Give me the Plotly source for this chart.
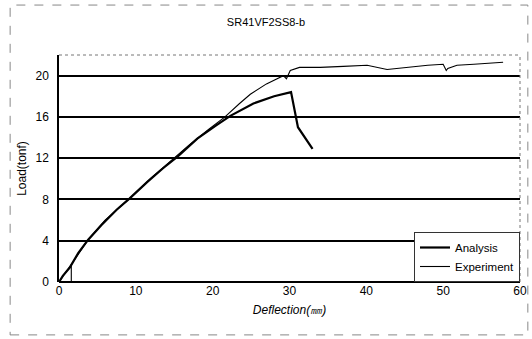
import plotly.graph_objects as go

# Data
analysis_x = [0, 0.5, 1.4, 2.5, 3.8, 5.5, 7.5, 9.2, 11.5, 13.5, 15.5, 18.0, 20.5, 22.3, 25.3, 28.0, 30.2, 31.1, 33.0]
analysis_y = [0, 0.6, 1.4, 2.8, 4.1, 5.5, 7.0, 8.1, 9.7, 11.0, 12.2, 13.9, 15.2, 16.1, 17.3, 18.0, 18.4, 15.0, 12.9]

experiment_x = [0, 1.6, 1.6, 0, 1.6, 3.8, 6.0, 9.2, 12.0, 14.5, 17.0, 19.5, 21.6, 23.5, 24.9, 27.0, 29.2, 29.6, 30.1,
                31.3, 34.0, 37.0, 40.1, 42.7, 45.0, 48.0, 50.0, 50.4, 50.6, 51.8, 54.0, 56.0, 57.8]
experiment_y = [0, 1.7, 0, 0, 1.7, 4.1, 6.0, 8.1, 10.1, 11.7, 13.3, 14.8, 16.0, 17.3, 18.2, 19.2, 20.0, 19.7, 20.5,
                20.8, 20.8, 20.9, 21.0, 20.6, 20.8, 21.0, 21.1, 20.5, 20.7, 21.0, 21.1, 21.2, 21.3]

x_ticks = [0, 10, 20, 30, 40, 50, 60]
y_ticks = [0, 4, 8, 12, 16, 20]

title_text = "SR41VF2SS8-b"
x_title = "Deflection(㎜)"
y_title = "Load(tonf)"

font_family = "Liberation Sans, Arial, sans-serif"

fig = go.Figure()
fig.add_trace(go.Scatter(x=analysis_x, y=analysis_y, mode="lines", name="Analysis",
                         line=dict(color="black", width=2.2)))
fig.add_trace(go.Scatter(x=experiment_x, y=experiment_y, mode="lines", name="Experiment",
                         line=dict(color="black", width=1.1)))

fig.update_layout(
    width=532, height=339,
    margin=dict(l=59, r=12, t=55, b=57, autoexpand=False),
    paper_bgcolor="white", plot_bgcolor="white",
    font=dict(family=font_family, color="black", size=12),
    title=dict(text=title_text, x=0.5, xanchor="center", y=1 - 22 / 339, yanchor="middle",
               font=dict(size=11, family=font_family)),
    showlegend=True,
    legend=dict(x=1.0, y=0.0, xanchor="right", yanchor="bottom", bgcolor="white",
                bordercolor="#333", borderwidth=1, font=dict(size=11.5),
                tracegroupgap=0, itemwidth=30),
    xaxis=dict(range=[0, 60], tickvals=x_ticks, showgrid=False, zeroline=False, automargin=False,
               showline=False, ticks="", tickfont=dict(size=12),
               title=dict(text=x_title, font=dict(size=12, style="italic"), standoff=8)),
    yaxis=dict(range=[0, 22], tickvals=y_ticks, showgrid=True, gridcolor="black", gridwidth=1.6,
               zeroline=True, zerolinecolor="black", zerolinewidth=1.6, automargin=False,
               showline=True, linecolor="black", linewidth=1.5, ticks="",
               tickfont=dict(size=12), ticklabelstandoff=6,
               title=dict(text=y_title, font=dict(size=12), standoff=6)),
)

# dotted plot-area border (top and right)
fig.add_shape(type="line", xref="paper", yref="paper", x0=0, x1=1, y0=1, y1=1,
              line=dict(color="#777", width=1, dash="dot"))
fig.add_shape(type="line", xref="paper", yref="paper", x0=1, x1=1, y0=0, y1=1,
              line=dict(color="#777", width=1, dash="dot"))
# outer chart frame
fig.add_shape(type="rect", xref="paper", yref="paper", x0=-0.106, x1=1.017, y0=-0.233, y1=1.22,
              line=dict(color="#888", width=1, dash="dash"))

fig.write_html("out.html", config={"displayModeBar": False},
               post_script="document.body.style.margin='0';")
